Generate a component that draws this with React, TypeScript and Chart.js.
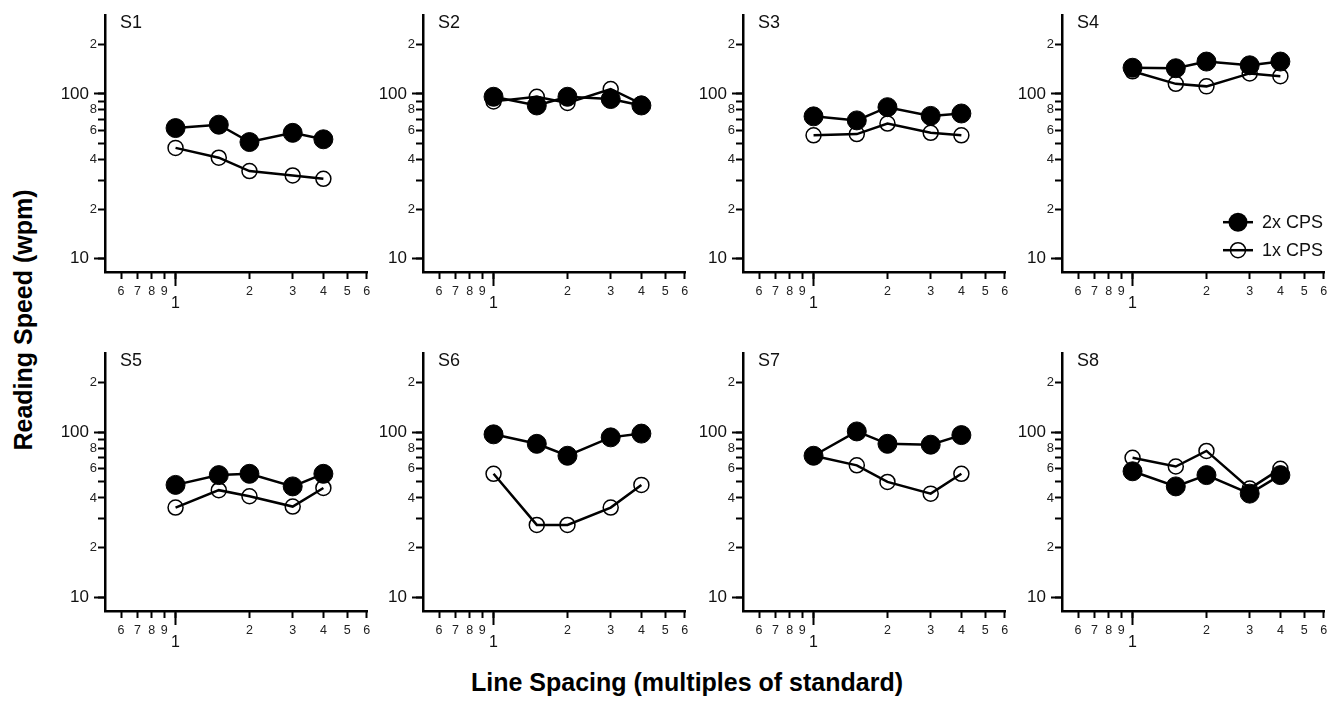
import React, { useEffect, useRef } from "react";
import { Chart, registerables } from "chart.js";

Chart.register(...registerables);

const FONT = "'Liberation Sans', Arial, Helvetica, sans-serif";
Chart.defaults.font.family = FONT;

// Line spacing (multiples of standard)
const spacing = [1, 1.5, 2, 3, 4];

// Reading speed (wpm) per subject
const s1Cps2 = [62, 65, 51, 58, 53];
const s1Cps1 = [47, 41, 34, 32, 30.5];
const s2Cps2 = [96, 85, 96, 93, 85];
const s2Cps1 = [90, 96, 88, 107, 87];
const s3Cps2 = [73, 69, 83, 73.5, 76];
const s3Cps1 = [56, 57, 66, 58, 56];
const s4Cps2 = [144, 143, 157, 149, 157];
const s4Cps1 = [137, 115, 111, 133, 128];
const s5Cps2 = [48, 55, 56, 47, 56];
const s5Cps1 = [35, 44.6, 41, 35.5, 46];
const s6Cps2 = [97, 85, 72, 93, 98];
const s6Cps1 = [56, 27.5, 27.5, 35, 48];
const s7Cps2 = [72, 101, 85, 84, 96];
const s7Cps1 = [72, 63, 50, 42.5, 56];
const s8Cps2 = [58, 47, 55, 42.5, 55];
const s8Cps1 = [70, 62, 77, 45.6, 60];

const panelNames = ["S1", "S2", "S3", "S4", "S5", "S6", "S7", "S8"];
const panelCps2 = [s1Cps2, s2Cps2, s3Cps2, s4Cps2, s5Cps2, s6Cps2, s7Cps2, s8Cps2];
const panelCps1 = [s1Cps1, s2Cps1, s3Cps1, s4Cps1, s5Cps1, s6Cps1, s7Cps1, s8Cps1];

const seriesLabels = ["2x CPS", "1x CPS"];

// Axis ticks
const xTicks = [0.6, 0.7, 0.8, 0.9, 1, 2, 3, 4, 5, 6];
const xLabels: (string | string[])[] = ["6", "7", "8", "9", ["", "1"], "2", "3", "4", "5", "6"];
const xMajorTicks = [1];
const yMinorTicks = [10, 20, 30, 40, 50, 60, 70, 80, 90, 100, 200];
const yMinorLabels = ["", "2", "", "4", "", "6", "", "8", "", "", "2"];
const yMajorTicks = [10, 100];
const yMajorLabels = ["10", "100"];

const X_MIN = 0.516;
const X_MAX = 6.05;
const Y_MIN = 8.3;
const Y_MAX = 300;

// layout
const colX = [105, 423, 743, 1062];
const rowTop = [10, 348];
const rowH = [262, 263];
const PLOT_W = 263;
const PAD_L = 64;
const SMALL_W = 15;
const PAD_R = 10;
const PAD_T = 6;
const PAD_B = 48;

const legendPlugin = {
  id: "cpsLegend",
  afterDraw(chart: any, _args: any, opts: any) {
    if (!opts || !opts.show) return;
    const ctx = chart.ctx;
    const a = chart.chartArea;
    const cx = a.left + 176;
    const rows = [a.top + 207, a.top + 235];
    ctx.save();
    rows.forEach((y, i) => {
      ctx.strokeStyle = "#000";
      ctx.lineWidth = 2.5;
      ctx.beginPath();
      ctx.moveTo(cx - 15, y);
      ctx.lineTo(cx + 15, y);
      ctx.stroke();
      ctx.beginPath();
      if (i === 0) {
        ctx.fillStyle = "#000";
        ctx.arc(cx, y, 9.5, 0, Math.PI * 2);
        ctx.fill();
      } else {
        ctx.lineWidth = 1.5;
        ctx.arc(cx, y, 7.5, 0, Math.PI * 2);
        ctx.stroke();
      }
      ctx.fillStyle = "#111";
      ctx.font = `18px ${FONT}`;
      ctx.textAlign = "left";
      ctx.textBaseline = "middle";
      ctx.fillText(seriesLabels[i], cx + 24, y + 1);
    });
    ctx.restore();
  },
};

function labelFrom(ticks: number[], labels: any[]) {
  return (value: any) => {
    const i = ticks.findIndex((t) => Math.abs(t - Number(value)) < 1e-6);
    return i >= 0 ? labels[i] : "";
  };
}

const setTicks = (vals: number[]) => (s: any) => {
  s.ticks = vals.map((v) => ({ value: v }));
};

const tickGrid = (len: number) => ({
  display: true,
  drawOnChartArea: false,
  drawTicks: true,
  tickLength: len,
  tickWidth: 2,
  tickColor: "#000",
});

const noGrid = { display: false, drawTicks: false, tickLength: 0 };

function Panel({ idx }: { idx: number }) {
  const ref = useRef<HTMLCanvasElement>(null);
  const col = idx % 4;
  const row = Math.floor(idx / 4);
  const plotH = rowH[row];
  const W = PAD_L + PLOT_W + PAD_R;
  const H = PAD_T + plotH + PAD_B;

  useEffect(() => {
    const chart = new Chart(ref.current!, {
      type: "line",
      data: {
        datasets: [
          {
            label: seriesLabels[0],
            data: spacing.map((x, i) => ({ x, y: panelCps2[idx][i] })),
            borderColor: "#000",
            borderWidth: 2.5,
            pointRadius: 9.5,
            pointBackgroundColor: "#000",
            pointBorderColor: "#000",
            pointBorderWidth: 1,
            xAxisID: "x",
            yAxisID: "y",
          },
          {
            label: seriesLabels[1],
            data: spacing.map((x, i) => ({ x, y: panelCps1[idx][i] })),
            borderColor: "#000",
            borderWidth: 2.5,
            pointRadius: 7.5,
            pointBackgroundColor: "rgba(0,0,0,0)",
            pointBorderColor: "#000",
            pointBorderWidth: 1.5,
            xAxisID: "x",
            yAxisID: "y",
          },
        ],
      },
      options: {
        responsive: false,
        animation: false,
        devicePixelRatio: 1,
        layout: { padding: { left: 0, right: PAD_R, top: PAD_T, bottom: 0 } },
        plugins: {
          legend: { display: false },
          tooltip: { enabled: false },
          cpsLegend: { show: idx === 3 },
        } as any,
        scales: {
          // long tick at 1 + axis line
          xMajor: {
            type: "logarithmic",
            position: "bottom",
            min: X_MIN,
            max: X_MAX,
            weight: 0,
            afterBuildTicks: setTicks(xMajorTicks),
            afterFit: (s: any) => {
              s.height = 0;
            },
            grid: tickGrid(14),
            border: { display: true, width: 2.5, color: "#000" },
            ticks: { display: false, autoSkip: false },
          },
          x: {
            type: "logarithmic",
            position: "bottom",
            min: X_MIN,
            max: X_MAX,
            weight: 1,
            afterBuildTicks: setTicks(xTicks),
            afterFit: (s: any) => {
              s.height = PAD_B;
            },
            grid: tickGrid(7),
            border: { display: false },
            ticks: {
              autoSkip: false,
              maxRotation: 0,
              minRotation: 0,
              padding: 5,
              color: (c: any) => (c.tick && c.tick.value === 1 ? "#111" : "#222"),
              font: (c: any) =>
                c.tick && c.tick.value === 1
                  ? { size: 16, lineHeight: 0.8 }
                  : { size: 12.5, lineHeight: 1.15 },
              callback: labelFrom(xTicks, xLabels),
            },
          },
          // long ticks at 10 & 100 + axis line
          yMajor: {
            type: "logarithmic",
            position: "left",
            min: Y_MIN,
            max: Y_MAX,
            weight: 0,
            afterBuildTicks: setTicks(yMajorTicks),
            afterFit: (s: any) => {
              s.width = 0;
            },
            grid: tickGrid(11),
            border: { display: true, width: 2.5, color: "#000" },
            ticks: { display: false, autoSkip: false },
          },
          y: {
            type: "logarithmic",
            position: "left",
            min: Y_MIN,
            max: Y_MAX,
            weight: 1,
            afterBuildTicks: setTicks(yMinorTicks),
            afterFit: (s: any) => {
              s.width = SMALL_W;
            },
            grid: tickGrid(7),
            border: { display: false },
            ticks: {
              autoSkip: false,
              padding: 1,
              color: "#222",
              font: { size: 13 },
              callback: labelFrom(yMinorTicks, yMinorLabels),
            },
          },
          yLabels: {
            type: "logarithmic",
            position: "left",
            min: Y_MIN,
            max: Y_MAX,
            weight: 2,
            afterBuildTicks: setTicks(yMajorTicks),
            afterFit: (s: any) => {
              s.width = PAD_L - SMALL_W;
            },
            grid: noGrid,
            border: { display: false },
            ticks: {
              autoSkip: false,
              padding: 1,
              color: "#111",
              font: { size: 17 },
              callback: labelFrom(yMajorTicks, yMajorLabels),
            },
          },
        },
      } as any,
      plugins: [legendPlugin],
    });
    return () => chart.destroy();
  }, [idx]);

  const left = colX[col];
  const top = rowTop[row];
  return (
    <>
      <canvas
        ref={ref}
        width={W}
        height={H}
        style={{ position: "absolute", left: left - PAD_L, top: top - PAD_T, width: W, height: H, display: "block" }}
      />
      <div
        style={{
          position: "absolute",
          left: left + 15,
          top: top + 1,
          fontFamily: FONT,
          fontSize: 18,
          lineHeight: "22px",
          color: "#111",
        }}
      >
        {panelNames[idx]}
      </div>
    </>
  );
}

export default function App() {
  return (
    <div
      style={{
        position: "absolute",
        left: 0,
        top: 0,
        width: 1344,
        height: 704,
        background: "#fff",
        overflow: "hidden",
      }}
    >
      {panelNames.map((_, i) => (
        <Panel key={i} idx={i} />
      ))}
      <div
        style={{
          position: "absolute",
          left: 23,
          top: 320,
          transform: "translate(-50%, -50%) rotate(-90deg)",
          whiteSpace: "nowrap",
          fontFamily: FONT,
          fontWeight: "bold",
          fontSize: 25,
          color: "#000",
        }}
      >
        Reading Speed (wpm)
      </div>
      <div
        style={{
          position: "absolute",
          left: 687,
          top: 682,
          transform: "translate(-50%, -50%)",
          whiteSpace: "nowrap",
          fontFamily: FONT,
          fontWeight: "bold",
          fontSize: 25,
          color: "#000",
        }}
      >
        Line Spacing (multiples of standard)
      </div>
    </div>
  );
}
